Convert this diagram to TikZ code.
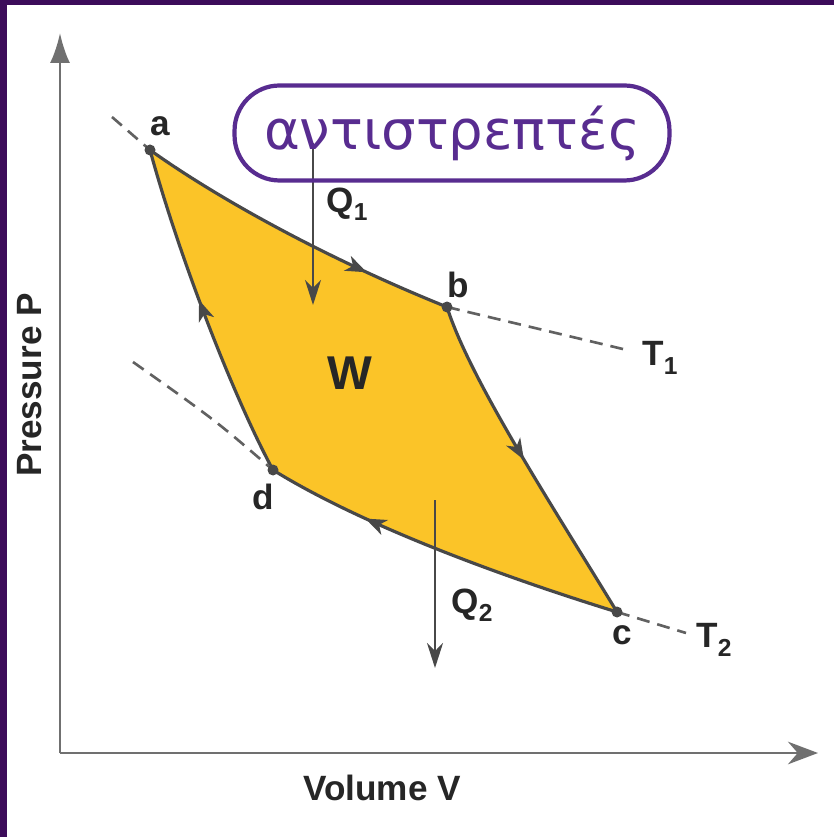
\documentclass[tikz,border=0pt]{standalone}
\usepackage{fontspec}
\setsansfont{Liberation Sans}
\newfontfamily\handfont{DejaVu Sans}
\usepackage{tikz}
\usetikzlibrary{positioning, arrows.meta, calc, decorations.markings}
\usepackage{xcolor}
\definecolor{cycleyellow}{RGB}{251,196,40}
\definecolor{curvegray}{RGB}{72,72,72}
\definecolor{axisgray}{RGB}{112,112,112}
\definecolor{penpurple}{RGB}{88,44,144}
\definecolor{edgepurple}{RGB}{60,12,90}
\newcommand{\lowsub}[1]{\raisebox{-0.45ex}{\fontsize{14}{14}\selectfont #1}}
\tikzset{
  statept/.style={circle, fill=curvegray, inner sep=0pt, minimum size=0.22cm},
  statelbl/.style={font=\sffamily\bfseries\fontsize{20}{20}\selectfont, text=black!85, inner sep=1pt},
  isoline/.style={draw=black!62, line width=1.5pt, dash pattern=on 0.26cm off 0.16cm},
  cycleline/.style={draw=curvegray, line width=1.8pt},
  midarrow/.style={postaction={decorate}, decoration={markings,
    mark=at position #1 with {\arrow{Stealth[length=0.42cm, width=0.32cm, inset=0.12cm]}}}},
  heatarrow/.style={draw=curvegray, line width=1.2pt, -{Stealth[length=0.5cm, width=0.32cm, inset=0.16cm]}}
}

\begin{document}
\begin{tikzpicture}[x=0.02cm, y=-0.02cm]
\fill[edgepurple] (0,0) rectangle (834,837);
\fill[white] (7,5) rectangle (834,837);
\useasboundingbox (0,0) rectangle (834,837);

\coordinate (origin) at (60,753);
\coordinate (ptop) at (60,33);
\coordinate (vend) at (818,753);
\draw[axisgray, line width=1.6pt, -{Latex[length=0.6cm, width=0.4cm]}] (origin) -- (ptop);
\draw[axisgray, line width=1.6pt, -{Stealth[length=0.6cm, width=0.45cm]}] (origin) -- (vend);

\coordinate (a) at (150,150);
\coordinate (b) at (447,307);
\coordinate (c) at (617,612);
\coordinate (d) at (273,470);

\fill[cycleyellow] (a) .. controls (220,200) and (330,260) .. (b)
  .. controls (470,380) and (555,510) .. (c)
  .. controls (520,582) and (370,530) .. (d)
  .. controls (235,400) and (180,260) .. (a) -- cycle;
\draw[cycleline, midarrow=0.74] (a) .. controls (220,200) and (330,260) .. (b);
\draw[cycleline, midarrow=0.49] (b) .. controls (470,380) and (555,510) .. (c);
\draw[cycleline, midarrow=0.72] (c) .. controls (520,582) and (370,530) .. (d);
\draw[cycleline, midarrow=0.54] (d) .. controls (235,400) and (180,260) .. (a);

\coordinate (t1start) at (112,117);
\coordinate (t1end) at (627,350);
\coordinate (t2start) at (133,362);
\coordinate (t2end) at (686,633);
\draw[isoline] (t1start) -- (a);
\draw[isoline] (b) -- (t1end);
\draw[isoline] (t2start) .. controls (215,420) .. (d);
\draw[isoline] (c) -- (t2end);

\node[statept] (dota) at (a) {};
\node[statept] (dotb) at (b) {};
\node[statept] (dotc) at (c) {};
\node[statept] (dotd) at (d) {};

\node[statelbl] (lbla) at (160,126) {a};
\node[statelbl] (lblb) at (458,285) {b};
\node[statelbl] (lblc) at (622,635) {c};
\node[statelbl] (lbld) at (263,497) {d};
\node[statelbl] (lblt1) at (660,358) {T\lowsub{1}};
\node[statelbl] (lblt2) at (714,640) {T\lowsub{2}};
\node[statelbl, font=\sffamily\bfseries\fontsize{27}{27}\selectfont] (work) at (350,373) {W};

\coordinate (q1start) at (313,143);
\coordinate (q1end) at (313,305);
\coordinate (q2start) at (435,500);
\coordinate (q2end) at (435,668);
\draw[heatarrow] (q1start) -- (q1end);
\draw[heatarrow] (q2start) -- (q2end);
\node[statelbl] (lblq1) at (347,204) {Q\lowsub{1}};
\node[statelbl] (lblq2) at (472,605) {Q\lowsub{2}};

\node[draw=penpurple, line width=2.4pt, rounded corners=0.9cm, minimum width=8.7cm, minimum height=1.9cm,
  text=penpurple, font=\handfont\fontsize{31}{31}\selectfont] (note) at (452,133) {αντιστρεπτές};

\node[statelbl, rotate=90] (ylabel) at (30,385) {Pressure P};
\node[statelbl] (xlabel) at (382,788) {Volume V};
\end{tikzpicture}
\end{document}
